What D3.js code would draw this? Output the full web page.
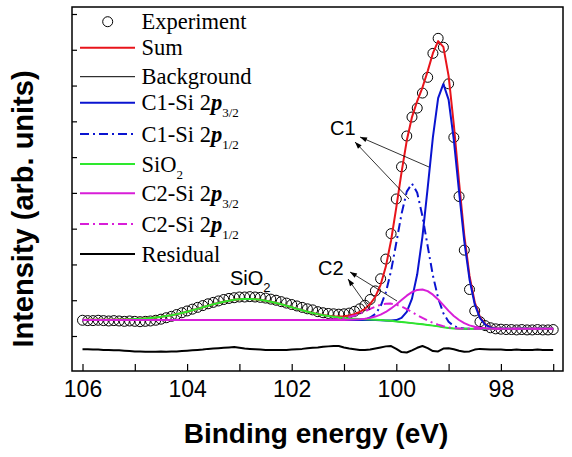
<!DOCTYPE html>
<html><head><meta charset="utf-8">
<script src="https://cdn.jsdelivr.net/npm/d3@7"></script>
<style>body{margin:0;background:#fff}svg{display:block}</style>
</head><body><svg id="c" width="572" height="457"></svg>
<script>
// ---------- data (binding energy grid, eV) ----------
const energy = [106,105.9,105.8,105.7,105.6,105.5,105.4,105.3,105.2,105.1,
105,104.9,104.8,104.7,104.6,104.5,104.4,104.3,104.2,104.1,
104,103.9,103.8,103.7,103.6,103.5,103.4,103.3,103.2,103.1,
103,102.9,102.8,102.7,102.6,102.5,102.4,102.3,102.2,102.1,
102,101.9,101.8,101.7,101.6,101.5,101.4,101.3,101.2,101.1,
101,100.9,100.8,100.7,100.6,100.5,100.4,100.3,100.2,100.1,
100,99.9,99.8,99.7,99.6,99.5,99.4,99.3,99.2,99.1,
99,98.9,98.8,98.7,98.6,98.5,98.4,98.3,98.2,98.1,
98,97.9,97.8,97.7,97.6,97.5,97.4,97.3,97.2,97.1,
97];
const experiment = [4.4,4.3,4.3,4.4,4.3,4.2,4.3,4.2,4.1,4.2,
4.1,4.0,4.1,4.2,4.4,4.7,5.1,5.5,6.0,6.5,
7.0,7.5,8.0,8.5,9.0,9.4,9.8,10.2,10.5,10.7,
10.9,10.9,11.0,10.9,10.8,10.6,10.3,10.0,9.6,9.2,
8.8,8.4,8.0,7.6,7.3,6.8,6.5,6.3,6.2,6.1,
6.2,6.4,6.9,7.6,8.6,10.2,12.6,16.0,21.5,28.6,
38.3,47.3,55.9,61.2,63.7,67.9,72.3,79.0,83.2,80.7,
70.5,55.5,39.0,24.0,13.0,7.0,4.0,2.9,2.3,2.0,
1.9,1.8,1.8,1.7,1.8,1.7,1.7,1.8,1.7,1.7,
1.8];
const sumFit = [4.5,4.51,4.51,4.52,4.53,4.54,4.56,4.58,4.62,4.66,
4.72,4.8,4.9,5.02,5.17,5.35,5.57,5.82,6.11,6.44,
6.8,7.19,7.59,8.02,8.44,8.85,9.24,9.58,9.88,10.12,
10.28,10.36,10.36,10.28,10.12,9.88,9.58,9.24,8.85,8.44,
8.02,7.59,7.19,6.8,6.44,6.11,5.86,5.65,5.51,5.45,
5.51,5.73,6.09,6.7,7.58,8.93,10.98,14.3,19.4,26.7,
35.94,45.75,54.62,61.19,65.67,69.45,74.04,79.05,82.41,80.82,
72.69,59.04,43.03,28.15,16.78,9.42,5.3,3.31,2.47,2.16,
2.03,2,2,2,2,2,2,2,2,2,
2];
const background = [4.5,4.5,4.5,4.5,4.5,4.5,4.5,4.5,4.5,4.5,
4.5,4.5,4.5,4.5,4.5,4.5,4.5,4.5,4.5,4.5,
4.5,4.5,4.5,4.5,4.5,4.5,4.5,4.5,4.5,4.5,
4.5,4.5,4.5,4.5,4.5,4.5,4.5,4.5,4.5,4.5,
4.5,4.5,4.5,4.5,4.5,4.5,4.5,4.5,4.5,4.5,
4.5,4.5,4.5,4.5,4.5,4.5,4.45,4.4,4.3,4.2,
4.05,3.9,3.75,3.6,3.45,3.3,3.1,2.9,2.7,2.45,
2.25,2.1,2.05,2,2,2,2,2,2,2,
2,2,2,2,2,2,2,2,2,2,
2];
const c1p32 = [4.5,4.5,4.5,4.5,4.5,4.5,4.5,4.5,4.5,4.5,
4.5,4.5,4.5,4.5,4.5,4.5,4.5,4.5,4.5,4.5,
4.5,4.5,4.5,4.5,4.5,4.5,4.5,4.5,4.5,4.5,
4.5,4.5,4.5,4.5,4.5,4.5,4.5,4.5,4.5,4.5,
4.5,4.5,4.5,4.5,4.5,4.5,4.5,4.5,4.5,4.5,
4.5,4.5,4.5,4.5,4.5,4.5,4.45,4.4,4.33,4.32,
4.44,5.05,6.74,10.45,17.25,27.8,41.4,55.6,66.5,70.45,
66.05,54.8,40.35,26.5,15.8,8.85,4.99,3.15,2.39,2.12,
2.03,2,2,2,2,2,2,2,2,2,
2];
const c1p12 = [4.5,4.5,4.5,4.5,4.5,4.5,4.5,4.5,4.5,4.5,
4.5,4.5,4.5,4.5,4.5,4.5,4.5,4.5,4.5,4.5,
4.5,4.5,4.5,4.5,4.5,4.5,4.5,4.5,4.5,4.5,
4.5,4.5,4.5,4.5,4.5,4.5,4.5,4.5,4.5,4.5,
4.5,4.5,4.5,4.5,4.5,4.5,4.5,4.5,4.5,4.5,
4.5,4.5,4.5,4.57,4.72,5.16,6.16,8.33,12.2,18.2,
26.05,34.1,40.35,42.6,40.05,33.5,25.1,16.9,10.6,6.38,
3.96,2.76,2.27,2.07,2,2,2,2,2,2,
2,2,2,2,2,2,2,2,2,2,
2];
const sio2 = [4.5,4.51,4.51,4.52,4.53,4.54,4.56,4.58,4.62,4.66,
4.72,4.8,4.9,5.02,5.17,5.35,5.57,5.82,6.11,6.44,
6.8,7.19,7.59,8.02,8.44,8.85,9.24,9.58,9.88,10.12,
10.28,10.36,10.36,10.28,10.12,9.88,9.58,9.24,8.85,8.44,
8.02,7.59,7.19,6.8,6.44,6.11,5.82,5.57,5.35,5.17,
5.02,4.9,4.8,4.72,4.66,4.62,4.53,4.46,4.34,4.23,
4.07,3.91,3.75,3.6,3.45,3.3,3.1,2.9,2.7,2.45,
2.25,2.1,2.05,2,2,2,2,2,2,2,
2,2,2,2,2,2,2,2,2,2,
2];
const c2p32 = [4.5,4.5,4.5,4.5,4.5,4.5,4.5,4.5,4.5,4.5,
4.5,4.5,4.5,4.5,4.5,4.5,4.5,4.5,4.5,4.5,
4.5,4.5,4.5,4.5,4.5,4.5,4.5,4.5,4.5,4.5,
4.5,4.5,4.5,4.5,4.5,4.5,4.5,4.5,4.5,4.5,
4.5,4.5,4.5,4.5,4.5,4.5,4.5,4.5,4.5,4.5,
4.5,4.54,4.58,4.66,4.81,5.07,5.43,5.98,6.72,7.7,
8.82,10.06,11.27,12.26,12.88,13.0,12.53,11.56,10.22,8.61,
7.02,5.6,4.47,3.58,2.98,2.57,2.31,2.16,2.08,2.04,
2,2,2,2,2,2,2,2,2,2,
2];
const c2p12 = [4.5,4.5,4.5,4.5,4.5,4.5,4.5,4.5,4.5,4.5,
4.5,4.5,4.5,4.5,4.5,4.5,4.5,4.5,4.5,4.5,
4.5,4.5,4.5,4.5,4.5,4.5,4.5,4.5,4.5,4.5,
4.5,4.5,4.5,4.5,4.5,4.5,4.5,4.5,4.5,4.5,
4.5,4.5,4.5,4.5,4.5,4.5,4.54,4.58,4.66,4.78,
4.99,5.29,5.71,6.25,6.89,7.58,8.21,8.73,9.01,9.05,
8.76,8.23,7.51,6.68,5.84,5.05,4.31,3.69,3.19,2.73,
2.41,2.18,2.09,2,2,2,2,2,2,2,
2,2,2,2,2,2,2,2,2,2,
2];
const residual = [-3.7,-3.7,-3.8,-3.8,-3.9,-3.9,-4.0,-4.0,-4.1,-4.2,
-4.3,-4.3,-4.4,-4.4,-4.4,-4.3,-4.4,-4.3,-4.3,-4.2,
-4.1,-4.0,-3.9,-3.8,-3.6,-3.5,-3.4,-3.3,-3.2,-3.1,
-3.3,-3.5,-3.6,-3.7,-3.8,-3.9,-3.9,-3.9,-3.9,-3.9,
-3.8,-3.7,-3.6,-3.4,-3.3,-3.2,-3.0,-2.9,-2.8,-2.8,
-3.2,-3.5,-3.7,-3.9,-3.9,-3.8,-3.5,-3.2,-2.9,-2.8,
-3.6,-4.5,-4.6,-4.0,-3.3,-2.8,-3.4,-4.2,-4.3,-3.5,
-3.4,-3.7,-4.1,-4.4,-4.3,-3.8,-3.6,-3.7,-3.8,-3.8,
-3.8,-3.9,-3.9,-3.8,-3.9,-3.9,-3.9,-3.8,-3.9,-3.9,
-3.9];
const xTicks = [106,105,104,103,102,101,100,99,98,97];
const xTickLabels = ["106","","104","","102","","100","","98",""];
const yTicks = [0,10,20,30,40,50,60,70,80,90];

// ---------- layout ----------
const svg = d3.select("#c");
const F = {l:72, r:563, t:7, b:371};
const x = d3.scaleLinear().domain([106,97]).range([82.5,553.2]);
const y = d3.scaleLinear().domain([0,90]).range([336,14]);
const sans = "'Liberation Sans', Arial, sans-serif";
const serif = "'Liberation Serif', 'Times New Roman', serif";

const pts = arr => energy.map((e,i)=>({e, v:arr[i]}));
const line = d3.line().x(d=>x(d.e)).y(d=>y(d.v));

// experiment circles
svg.append("g").selectAll("circle").data(pts(experiment)).join("circle")
  .attr("cx",d=>x(d.e)).attr("cy",d=>y(d.v)).attr("r",5)
  .attr("fill","none").attr("stroke","#000").attr("stroke-width",1);

const series = [
  {arr:sumFit, color:"#e8141b", w:2, dash:null},
  {arr:background, color:"#000", w:1, dash:null},
  {arr:c1p32, color:"#0a14d0", w:2, dash:null},
  {arr:c1p12, color:"#0a14d0", w:2, dash:"9,4,2,4"},
  {arr:sio2, color:"#2ee82e", w:2, dash:null},
  {arr:c2p32, color:"#d81ed8", w:2, dash:null},
  {arr:c2p12, color:"#d81ed8", w:2, dash:"9,4,2,4"},
  {arr:residual, color:"#000", w:2, dash:null}
];
series.forEach(s=>{
  svg.append("path").datum(pts(s.arr)).attr("d",line)
    .attr("fill","none").attr("stroke",s.color).attr("stroke-width",s.w)
    .attr("stroke-dasharray",s.dash).attr("stroke-linejoin","round");
});

// frame
svg.append("rect").attr("x",F.l).attr("y",F.t).attr("width",F.r-F.l).attr("height",F.b-F.t)
  .attr("fill","none").attr("stroke","#000").attr("stroke-width",1.5);

// axes
const xa = svg.append("g").attr("transform",`translate(0,${F.b})`)
  .call(d3.axisBottom(x).tickValues(xTicks).tickSize(-7).tickPadding(10)
    .tickFormat((d,i)=>xTickLabels[i]));
xa.select(".domain").remove();
xa.selectAll("line").attr("stroke","#000").attr("stroke-width",1.2);
xa.selectAll("text").attr("font-family",sans).attr("font-size",23).attr("fill","#000");

const ya = svg.append("g").attr("transform",`translate(${F.l},0)`)
  .call(d3.axisLeft(y).tickValues(yTicks).tickSize(-5).tickFormat(""));
ya.select(".domain").remove();
ya.selectAll("line").attr("stroke","#000").attr("stroke-width",1.2);

// axis titles
svg.append("text").attr("x",316).attr("y",443).attr("text-anchor","middle")
  .attr("font-family",sans).attr("font-size",28).attr("font-weight","bold")
  .text("Binding energy (eV)");
svg.append("text").attr("transform","translate(33,209) rotate(-90)").attr("text-anchor","middle")
  .attr("font-family",sans).attr("font-size",29).attr("font-weight","bold")
  .text("Intensity (arb. units)");

// legend
const legend = [
  {t:"Experiment", sym:"circle"},
  {t:"Sum", s:0},
  {t:"Background", s:1},
  {t:"C1-Si 2", p:true, sub:"3/2", s:2},
  {t:"C1-Si 2", p:true, sub:"1/2", s:3},
  {t:"SiO", sub:"2", s:4},
  {t:"C2-Si 2", p:true, sub:"3/2", s:5},
  {t:"C2-Si 2", p:true, sub:"1/2", s:6},
  {t:"Residual", s:7}
];
const legY = [21.7,47.7,76.7,102.7,134,164,193.3,224,254];
legend.forEach((L,i)=>{
  const yy = legY[i];
  if (L.sym==="circle") {
    svg.append("circle").attr("cx",107.7).attr("cy",yy).attr("r",5)
      .attr("fill","none").attr("stroke","#000").attr("stroke-width",1);
  } else {
    const s = series[L.s];
    svg.append("line").attr("x1",80).attr("x2",135).attr("y1",yy).attr("y2",yy)
      .attr("stroke",s.color).attr("stroke-width",s.w).attr("stroke-dasharray",s.dash);
  }
  const tx = svg.append("text").attr("x",141.5).attr("y",yy+7.5)
    .attr("font-family",serif).attr("font-size",22.5).attr("fill","#000");
  tx.append("tspan").text(L.t);
  if (L.p) tx.append("tspan").attr("font-style","italic").attr("font-weight","bold").text("p");
  if (L.sub) tx.append("tspan").attr("font-size",13).attr("dy",7).text(L.sub);
});

// annotations
function arrow(x1,y1,x2,y2){
  svg.append("line").attr("x1",x1).attr("y1",y1).attr("x2",x2).attr("y2",y2)
    .attr("stroke","#000").attr("stroke-width",0.8);
  const a = Math.atan2(y2-y1,x2-x1), L=7, W=2.5;
  const p = [[x2,y2],[x2-L*Math.cos(a)+W*Math.sin(a), y2-L*Math.sin(a)-W*Math.cos(a)],
             [x2-L*Math.cos(a)-W*Math.sin(a), y2-L*Math.sin(a)+W*Math.cos(a)]];
  svg.append("path").attr("d","M"+p.join("L")+"Z").attr("fill","#000");
}
svg.append("text").attr("x",330).attr("y",135).attr("font-family",sans).attr("font-size",20).text("C1");
arrow(429,167,360,137);
arrow(409,199,355,142);
svg.append("text").attr("x",318).attr("y",275).attr("font-family",sans).attr("font-size",20).text("C2");
arrow(397,301,350,272);
arrow(370,310,348,279);
const st = svg.append("text").attr("x",230).attr("y",285).attr("font-family",sans).attr("font-size",20);
st.append("tspan").text("SiO");
st.append("tspan").attr("font-size",13).attr("dy",7).text("2");
</script></body></html>
